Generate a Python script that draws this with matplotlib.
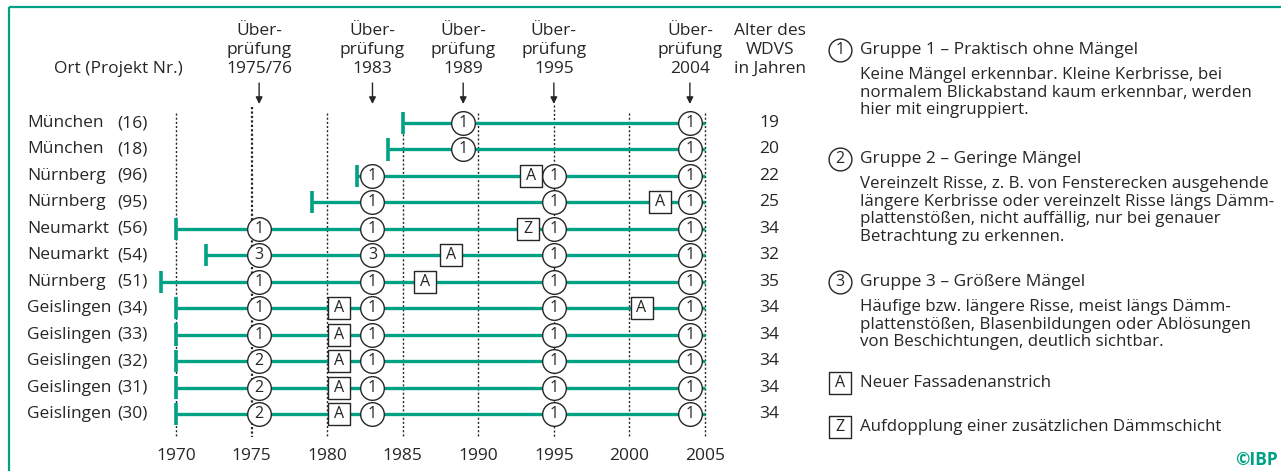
import matplotlib
matplotlib.use("Agg")
import matplotlib.pyplot as plt
from matplotlib.transforms import blended_transform_factory

plt.rcParams["font.family"] = ["Open Sans", "DejaVu Sans"]

W, H = 1281, 471
TEAL = "#00a184"
INK = "#262626"
FS = 12.5
FS_DESC = 12.2

# data
places = ["München", "München", "Nürnberg", "Nürnberg", "Neumarkt", "Neumarkt",
          "Nürnberg", "Geislingen", "Geislingen", "Geislingen", "Geislingen", "Geislingen"]
projects = ["(16)", "(18)", "(96)", "(95)", "(56)", "(54)",
            "(51)", "(34)", "(33)", "(32)", "(31)", "(30)"]
start_year = [1985, 1984, 1982, 1979, 1970, 1972, 1969, 1970, 1970, 1970, 1970, 1970]
end_year = 2005
age = [19, 20, 22, 25, 34, 32, 35, 34, 34, 34, 34, 34]

check_years = [1975.5, 1983, 1989, 1995, 2004]
check_labels = ["1975/76", "1983", "1989", "1995", "2004"]
# grade per row at each check (None = not inspected)
grades = [
    [None, None, 1, None, 1],
    [None, None, 1, None, 1],
    [None, 1, None, 1, 1],
    [None, 1, None, 1, 1],
    [1, 1, None, 1, 1],
    [3, 3, None, 1, 1],
    [1, 1, None, 1, 1],
    [1, 1, None, 1, 1],
    [1, 1, None, 1, 1],
    [2, 1, None, 1, 1],
    [2, 1, None, 1, 1],
    [2, 1, None, 1, 1],
]
# measures: (row, year, code)
measures = [
    (2, 1993.5, "A"), (3, 2002.0, "A"), (4, 1993.3, "Z"), (5, 1988.2, "A"),
    (6, 1986.5, "A"), (7, 1980.8, "A"), (7, 2000.8, "A"), (8, 1980.8, "A"),
    (9, 1980.8, "A"), (10, 1980.8, "A"), (11, 1980.8, "A"),
]
grid_years = [1970, 1975, 1980, 1985, 1990, 1995, 2000, 2005]

legend_groups = [
    ("1", "Gruppe 1 – Praktisch ohne Mängel",
     ["Keine Mängel erkennbar. Kleine Kerbrisse, bei",
      "normalem Blickabstand kaum erkennbar, werden",
      "hier mit eingruppiert."]),
    ("2", "Gruppe 2 – Geringe Mängel",
     ["Vereinzelt Risse, z. B. von Fensterecken ausgehende",
      "längere Kerbrisse oder vereinzelt Risse längs Dämm-",
      "plattenstößen, nicht auffällig, nur bei genauer",
      "Betrachtung zu erkennen."]),
    ("3", "Gruppe 3 – Größere Mängel",
     ["Häufige bzw. längere Risse, meist längs Dämm-",
      "plattenstößen, Blasenbildungen oder Ablösungen",
      "von Beschichtungen, deutlich sichtbar."]),
]
legend_codes = [("A", "Neuer Fassadenanstrich"),
                ("Z", "Aufdopplung einer zusätzlichen Dämmschicht")]

fig = plt.figure(figsize=(W / 100, H / 100), dpi=100)


def fx(px):
    return px / W


def fy(py):
    return 1 - py / H


# timeline axes, placed in pixels
x0, x1 = 1968, 2006
ppy = (705 - 176) / 35
left_px = 176 - (1970 - x0) * ppy
right_px = 705 + (x1 - 2005) * ppy
top_px, bot_px = 100, 437
row0, drow = 123, 26.45
ax = fig.add_axes([fx(left_px), fy(bot_px), (right_px - left_px) / W, (bot_px - top_px) / H])
ax.set_xlim(x0, x1)
ax.set_ylim((bot_px - row0) / drow, (top_px - row0) / drow)
for s in ax.spines.values():
    s.set_visible(False)
ax.set_yticks([])
ax.set_xticks(grid_years)
ax.set_xticklabels([str(y) for y in grid_years], fontsize=FS, color=INK)
ax.tick_params(axis="x", length=0, pad=8)

ybot = ax.get_ylim()[0]
for gy in grid_years:
    if gy == 1975:
        ax.vlines(gy, -0.6, ybot, color=INK, lw=1.6, linestyles=(0, (1, 1)), zorder=1)
    elif gy == 1995:
        ax.vlines(gy, -0.68, ybot, color=INK, lw=1, linestyles=(0, (1.5, 1.5)), zorder=1)
    else:
        ax.vlines(gy, -0.38, ybot, color=INK, lw=1, linestyles=(0, (1.5, 1.5)), zorder=1)

n = len(places)
for i in range(n):
    ax.hlines(i, start_year[i], end_year, color=TEAL, lw=2.4, zorder=2)
    ax.vlines(start_year[i], i - 0.42, i + 0.42, color=TEAL, lw=2.6, zorder=2)
    for cy, g in zip(check_years, grades[i]):
        if g is None:
            continue
        ax.scatter(cy, i, s=290, marker="o", facecolor="white", edgecolor=INK, lw=1, zorder=4)
        ax.text(cy, i, str(g), ha="center", va="center", fontsize=FS - 1, color=INK, zorder=5)

for r, yr, code in measures:
    ax.scatter(yr, r, s=250, marker="s", facecolor="white", edgecolor=INK, lw=1, zorder=4)
    ax.text(yr, r, code, ha="center", va="center", fontsize=FS - 1, color=INK, zorder=5)

# row labels and ages
tr = blended_transform_factory(fig.transFigure, ax.transData)
for i in range(n):
    ax.text(fx(27), i, places[i], transform=tr, ha="left", va="center", fontsize=FS, color=INK)
    ax.text(fx(148), i, projects[i], transform=tr, ha="right", va="center", fontsize=FS, color=INK)
    ax.text(fx(769), i, str(age[i]), transform=tr, ha="center", va="center", fontsize=FS, color=INK)

# inspection headers with arrows
for cy, lab in zip(check_years, check_labels):
    for txt, py in zip(["Über-", "prüfung", lab], [31, 50, 69]):
        ax.text(cy, (py - row0) / drow, txt, ha="center", va="center", fontsize=FS, color=INK)
    ax.annotate("", xy=(cy, (104 - row0) / drow), xytext=(cy, (83 - row0) / drow),
                arrowprops=dict(arrowstyle="-|>", color=INK, lw=1, mutation_scale=10,
                                shrinkA=0, shrinkB=0))

fig.text(fx(118), fy(69), "Ort (Projekt Nr.)", ha="center", va="center", fontsize=FS, color=INK)
for txt, py in zip(["Alter des", "WDVS", "in Jahren"], [31, 50, 69]):
    fig.text(fx(770), fy(py), txt, ha="center", va="center", fontsize=FS, color=INK)

# legend
lax = fig.add_axes([0, 0, 1, 1])
lax.set_xlim(0, W)
lax.set_ylim(H, 0)
lax.axis("off")
head_y = [50, 159, 282]
for (num, head, lines), hy in zip(legend_groups, head_y):
    lax.scatter(840, hy, s=270, marker="o", facecolor="white", edgecolor=INK, lw=1)
    lax.text(840, hy, num, ha="center", va="center", fontsize=FS - 1, color=INK)
    lax.text(860, hy, head, ha="left", va="center", fontsize=FS, color=INK)
    for k, ln in enumerate(lines):
        lax.text(860, hy + 25 + 17.7 * k, ln, ha="left", va="center", fontsize=FS_DESC, color=INK)
for (code, desc), py in zip(legend_codes, [383, 427]):
    lax.scatter(840, py, s=240, marker="s", facecolor="white", edgecolor=INK, lw=1)
    lax.text(840, py, code, ha="center", va="center", fontsize=FS - 1, color=INK)
    lax.text(860, py, desc, ha="left", va="center", fontsize=FS_DESC, color=INK)

lax.text(1278, 460, "©IBP", ha="right", va="center", fontsize=FS, color=TEAL, fontweight="bold")

# frame lines (top and left)
lax.plot([9, W], [7, 7], color=TEAL, lw=1.6, solid_capstyle="butt")
lax.plot([9, 9], [7, H], color=TEAL, lw=1.6, solid_capstyle="butt")

fig.savefig("out.png", dpi=100)
